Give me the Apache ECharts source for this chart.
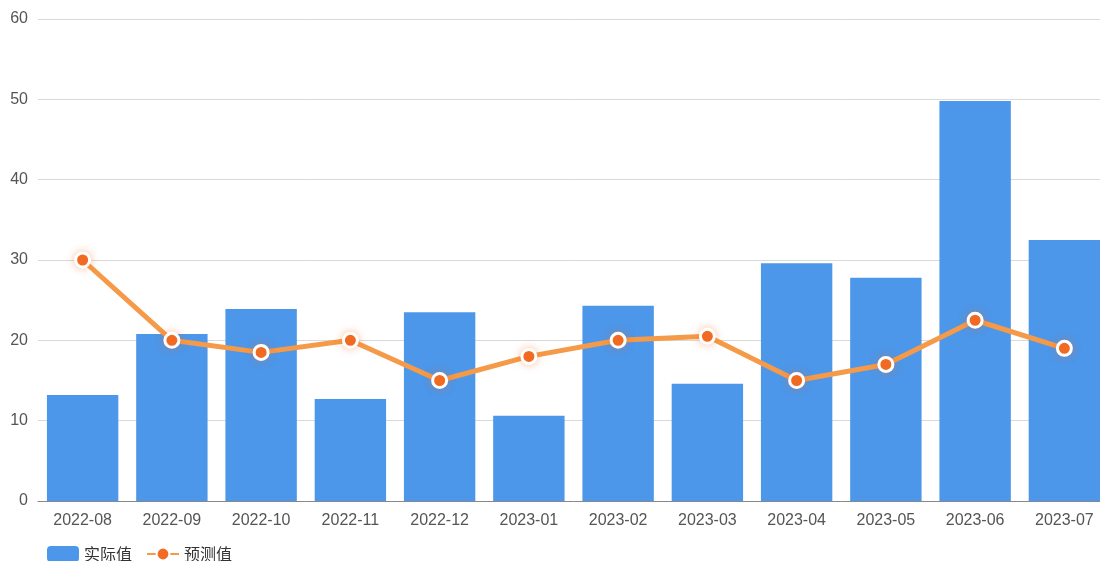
<!DOCTYPE html>
<html><head><meta charset="utf-8">
<script src="https://cdn.jsdelivr.net/npm/echarts@6/dist/echarts.min.js"></script>
<style>html,body{margin:0;padding:0;background:#fff;overflow:hidden;width:1100px;height:561px}#c{width:1109px;height:561px}</style>
</head><body><div id="c"></div>
<script>
const categories = ['2022-08','2022-09','2022-10','2022-11','2022-12','2023-01','2023-02','2023-03','2023-04','2023-05','2023-06','2023-07'];
const actual = [13.2, 20.8, 23.9, 12.7, 23.5, 10.6, 24.3, 14.6, 29.6, 27.8, 49.8, 32.5];
const forecast = [30, 20, 18.5, 20, 15, 18, 20, 20.5, 15, 17, 22.5, 19];
const chart = echarts.init(document.getElementById('c'));
chart.setOption({
  animation: false,
  grid: {left: 38, right: 0, top: 19, bottom: 60},
  legend: {
    left: 42, top: 541, itemWidth: 32, itemHeight: 16, itemGap: 14,
    textStyle: {color: '#333', fontSize: 16, fontFamily: 'Noto Sans CJK SC'},
    data: [{name: '实际值', icon: 'roundRect'}, {name: '预测值'}]
  },
  xAxis: {
    type: 'category', data: categories,
    axisLine: {lineStyle: {color: '#888'}},
    axisTick: {show: false},
    axisLabel: {color: '#555', fontSize: 16, margin: 12, fontFamily: 'Liberation Sans'}
  },
  yAxis: {
    type: 'value', min: 0, max: 60, interval: 10,
    axisLine: {show: false}, axisTick: {show: false},
    splitLine: {lineStyle: {color: '#d9d9d9'}},
    axisLabel: {color: '#555', fontSize: 16, margin: 10, fontFamily: 'Liberation Sans'}
  },
  series: [
    {name: '实际值', type: 'bar', data: actual, barCategoryGap: '20%',
     itemStyle: {color: '#4C97EA'}},
    {name: '预测值', type: 'line', data: forecast,
     symbol: 'circle', symbolSize: 14,
     lineStyle: {color: '#F59A48', width: 5},
     itemStyle: {color: '#F26B22', borderColor: '#fff', borderWidth: 3, shadowColor: 'rgba(242,107,34,0.35)', shadowBlur: 8}}
  ]
});
</script></body></html>
